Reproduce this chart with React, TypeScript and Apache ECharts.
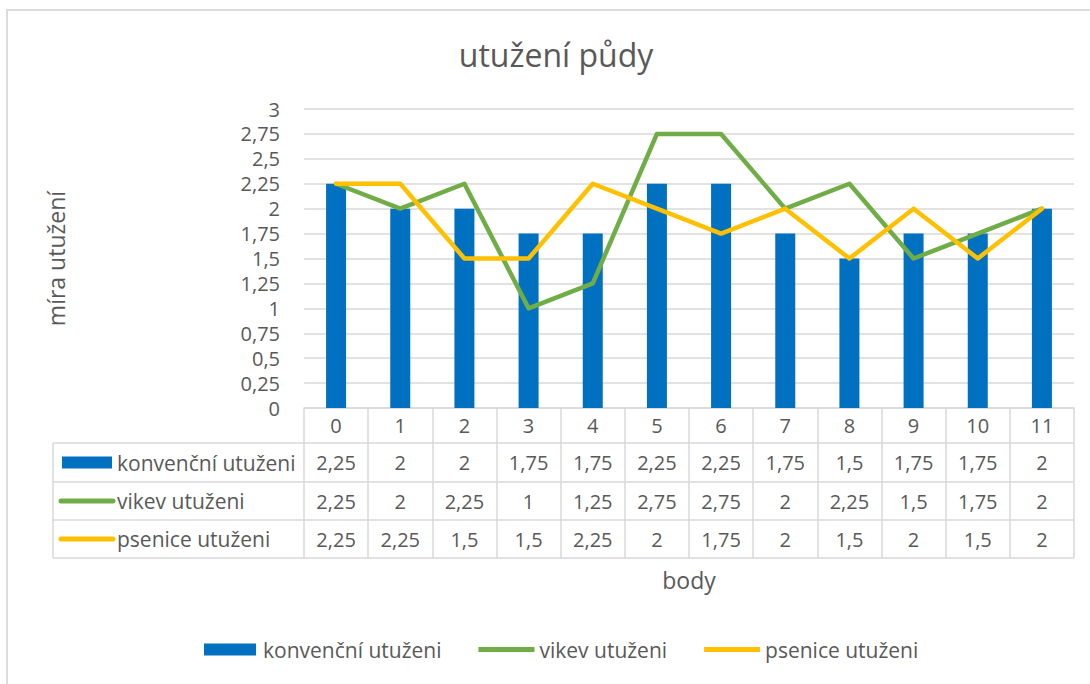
import React, { useEffect, useRef } from "react";
import * as echarts from "echarts";

const categories = ["0", "1", "2", "3", "4", "5", "6", "7", "8", "9", "10", "11"];
const seriesNames = ["konvenční utuženi", "vikev utuženi", "psenice utuženi"];
const konvencni = [2.25, 2, 2, 1.75, 1.75, 2.25, 2.25, 1.75, 1.5, 1.75, 1.75, 2];
const vikev = [2.25, 2, 2.25, 1, 1.25, 2.75, 2.75, 2, 2.25, 1.5, 1.75, 2];
const psenice = [2.25, 2.25, 1.5, 1.5, 2.25, 2, 1.75, 2, 1.5, 2, 1.5, 2];
const seriesValues = [konvencni, vikev, psenice];
const seriesColors = ["#0070C0", "#70AD47", "#FFC000"];
const titleText = "utužení půdy";
const yName = "míra utužení";
const xName = "body";

const FONT = "Open Sans";
const TXT = "#595959";
const LINE = "#d9d9d9";
const fmt = (v: number) => String(v).replace(".", ",");

export default function App() {
  const ref = useRef<HTMLDivElement>(null);
  useEffect(() => {
    if (!ref.current) return;
    const chart = echarts.init(ref.current, undefined, { renderer: "svg" });

    const gridLeft = 304;
    const gridTop = 109;
    const gridW = 770;
    const gridH = 299;
    const gridBottom = gridTop + gridH;
    const rowLines = [443, 482, 520, 558];
    const rowCenters = [462.5, 501, 539];
    const tableLeft = 53;
    const tableRight = gridLeft + gridW;

    const graphic: any[] = [
      {
        type: "rect",
        shape: { x: 7, y: 10, width: 2000, height: 2000 },
        style: { fill: "none", stroke: "#dcdcdc", lineWidth: 2 },
        silent: true,
      },
    ];
    rowLines.forEach((y) => {
      graphic.push({
        type: "line",
        shape: { x1: tableLeft, y1: y, x2: tableRight, y2: y },
        style: { stroke: LINE, lineWidth: 1.5 },
        silent: true,
      });
    });
    graphic.push({
      type: "line",
      shape: { x1: tableLeft, y1: rowLines[0], x2: tableLeft, y2: rowLines[3] },
      style: { stroke: LINE, lineWidth: 1.5 },
      silent: true,
    });
    seriesNames.forEach((name, i) => {
      const cy = rowCenters[i];
      if (i === 0) {
        graphic.push({
          type: "rect",
          shape: { x: 62, y: cy - 6, width: 50, height: 12 },
          style: { fill: seriesColors[i] },
          silent: true,
        });
      } else {
        graphic.push({
          type: "line",
          shape: { x1: 61, y1: cy, x2: 113, y2: cy },
          style: { stroke: seriesColors[i], lineWidth: 5, lineCap: "round" },
          silent: true,
        });
      }
      graphic.push({
        type: "text",
        x: 117,
        y: cy,
        style: {
          text: name,
          fill: TXT,
          font: `21px "${FONT}"`,
          textVerticalAlign: "middle",
          verticalAlign: "middle",
        },
        silent: true,
      });
    });

    const labelBase = {
      fontFamily: FONT,
      fontSize: 20,
      color: TXT,
      margin: 7,
      lineHeight: 20,
    };
    const offsets = [37.5, 76, 114];

    const xAxes: any[] = [
      {
        type: "category",
        data: categories,
        gridIndex: 0,
        position: "bottom",
        axisLine: { show: true, lineStyle: { color: LINE, width: 1.5 } },
        axisTick: {
          show: true,
          interval: 0,
          length: rowLines[3] - gridBottom,
          lineStyle: { color: LINE, width: 1.5 },
        },
        axisLabel: { ...labelBase, interval: 0 },
        name: xName,
        nameLocation: "middle",
        nameGap: 160,
        nameTextStyle: { fontFamily: FONT, fontSize: 23, color: TXT },
      },
    ];
    seriesValues.forEach((vals, i) => {
      xAxes.push({
        type: "category",
        data: categories,
        gridIndex: 0,
        position: "bottom",
        offset: offsets[i],
        axisLine: { show: false },
        axisTick: { show: false },
        splitLine: { show: false },
        axisLabel: {
          ...labelBase,
          interval: 0,
          formatter: (_v: string, idx: number) => fmt(vals[idx]),
        },
      });
    });

    chart.setOption({
      animation: false,
      textStyle: { fontFamily: FONT },
      title: {
        text: titleText,
        left: 551,
        textAlign: "center",
        top: 33,
        textStyle: { fontFamily: FONT, fontSize: 32, fontWeight: "normal", color: TXT },
      },
      grid: { left: gridLeft, top: gridTop, width: gridW, height: gridH },
      xAxis: xAxes,
      yAxis: {
        type: "value",
        min: 0,
        max: 3,
        interval: 0.25,
        axisLine: { show: false },
        axisTick: { show: false },
        splitLine: { lineStyle: { color: LINE, width: 1.5 } },
        axisLabel: {
          fontFamily: FONT,
          fontSize: 20,
          color: TXT,
          margin: 24,
          formatter: (v: number) => fmt(v),
        },
        name: yName,
        nameLocation: "middle",
        nameRotate: 90,
        nameGap: 237,
        nameTextStyle: { fontFamily: FONT, fontSize: 23, color: TXT },
      },
      legend: {
        left: 199,
        top: 634,
        itemWidth: 56,
        itemHeight: 12,
        itemGap: 37,
        textStyle: { fontFamily: FONT, fontSize: 21, color: TXT },
        data: [
          { name: seriesNames[0], icon: "path://M0,0L52,0L52,12L0,12Z" },
          { name: seriesNames[1], icon: "path://M0,0L56,0L56,5L0,5Z" },
          { name: seriesNames[2], icon: "path://M0,0L56,0L56,5L0,5Z" },
        ],
      },
      graphic,
      series: [
        {
          name: seriesNames[0],
          type: "bar",
          data: konvencni,
          barWidth: 20,
          itemStyle: { color: seriesColors[0] },
          z: 2,
        },
        {
          name: seriesNames[1],
          type: "line",
          data: vikev,
          symbol: "none",
          lineStyle: { color: seriesColors[1], width: 4.5, cap: "round", join: "round" },
          itemStyle: { color: seriesColors[1] },
          z: 3,
        },
        {
          name: seriesNames[2],
          type: "line",
          data: psenice,
          symbol: "none",
          lineStyle: { color: seriesColors[2], width: 4.5, cap: "round", join: "round" },
          itemStyle: { color: seriesColors[2] },
          z: 4,
        },
      ],
    });
    return () => chart.dispose();
  }, []);
  return (
    <div
      ref={ref}
      style={{ position: "fixed", left: 0, top: 0, width: 1090, height: 684, background: "#fff" }}
    />
  );
}
